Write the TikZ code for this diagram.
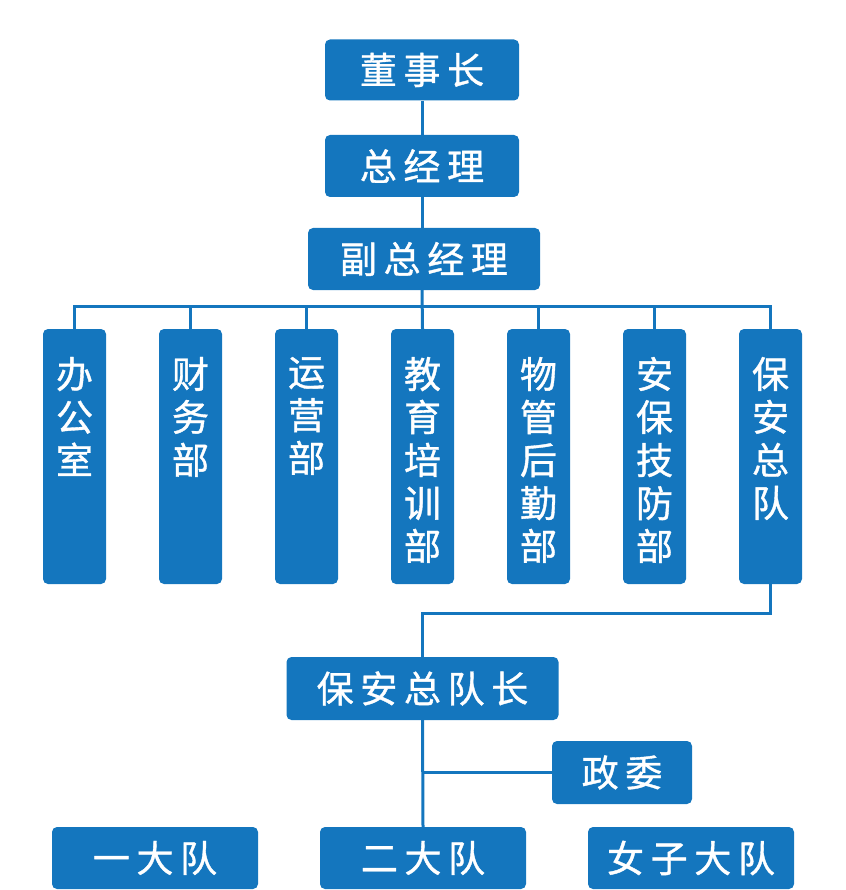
\documentclass[tikz,border=0pt]{standalone}
\usepackage{fontspec}
\newfontfamily\cjk[FakeBold=1]{Noto Sans CJK SC}
\newfontfamily\cjkwide[LetterSpace=18,FakeBold=1]{Noto Sans CJK SC}
\definecolor{boxblue}{RGB}{20,118,190}
\newcommand\vlabel[1]{\begin{minipage}[t][199pt][t]{44pt}\centering #1\end{minipage}}
\tikzset{
  box/.style={fill=boxblue, rounded corners=5pt, text=white, inner sep=0pt,
    font=\cjkwide\fontsize{37}{43}\selectfont},
  dept/.style={box, minimum width=63pt, minimum height=255pt,
    font=\cjk\fontsize{37}{43}\selectfont},
  link/.style={draw=boxblue, line width=3pt}
}
\begin{document}
\begin{tikzpicture}[x=1pt,y=-1pt]
\useasboundingbox (0,0) rectangle (845,890);
% top begin
\node[box, minimum width=194pt, minimum height=61pt] (chair) at (422,70) {董事长};
\node[box, minimum width=194pt, minimum height=62pt] (gm) at (422,166) {总经理};
\node[box, minimum width=232pt, minimum height=62pt] (vgm) at (424,259) {副总经理};
% top end
% departments begin
\node[dept] (office)  at (74.5,456.5) {\vlabel{办\\公\\室}};
\node[dept] (finance) at (190.5,456.5) {\vlabel{财\\务\\部}};
\node[dept] (ops)     at (306.5,456.5) {\vlabel{运\\营\\部}};
\node[dept] (train)   at (422.5,456.5) {\vlabel{教\\育\\培\\训\\部}};
\node[dept] (logis)   at (538.5,456.5) {\vlabel{物\\管\\后\\勤\\部}};
\node[dept] (tech)    at (654.5,456.5) {\vlabel{安\\保\\技\\防\\部}};
\node[dept] (guard)   at (770.5,456.5) {\vlabel{保\\安\\总\\队}};
% departments end
\node[box, minimum width=272pt, minimum height=63pt] (chief) at (422.5,688.5) {保安总队长};
\node[box, minimum width=140pt, minimum height=63pt] (commissar) at (622,772.5) {政委};
\node[box, minimum width=206pt, minimum height=62pt] (team1) at (155,858) {一大队};
\node[box, minimum width=206pt, minimum height=62pt] (team2) at (423,858) {二大队};
\node[box, minimum width=206pt, minimum height=62pt] (team3) at (691,858) {女子大队};
\coordinate (bus) at (422,306);
\draw[link] (chair) -- (gm);
\draw[link] (gm) -- (gm.south |- vgm.north);
\draw[link] (gm.south |- vgm.south) -- (train.north);
\draw[link] (office.north) |- (bus) -| (guard.north);
\draw[link] (finance.north) -- (finance.north |- bus);
\draw[link] (ops.north) -- (ops.north |- bus);
\draw[link] (logis.north) -- (logis.north |- bus);
\draw[link] (tech.north) -- (tech.north |- bus);
\draw[link] (guard.south) -- ++(0,29) -| (chief.north);
\draw[link] (chief.south) -- (team2.north);
\draw[link] (chief.south |- commissar.west) -- (commissar.west);
\end{tikzpicture}
\end{document}
